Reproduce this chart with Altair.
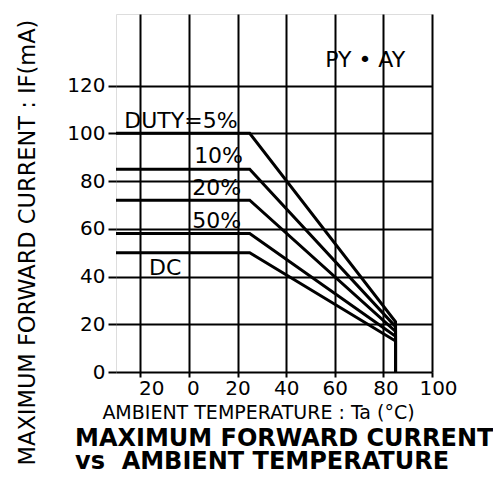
import altair as alt
import pandas as pd

# ---- data ----
series = ["DUTY=5%", "10%", "20%", "50%", "DC"]
flat_levels = [100, 85, 72, 58, 50]
start_temp = -30
knee_temp = 25
end_temp = 85
end_levels = [21, 19, 17, 15, 13]

label_texts = ["DUTY=5%", "10%", "20%", "50%", "DC", "PY • AY"]
label_x = [-3.3, 12.2, 11.4, 11.4, -9.8, 72.5]
label_y = [102.2, 87.6, 74.2, 60.3, 40.6, 127.8]

x_ticks = [-20, 0, 20, 40, 60, 80, 100]
y_ticks = [0, 20, 40, 60, 80, 100, 120]

rows = []
for s, f, e in zip(series, flat_levels, end_levels):
    pts = [(start_temp, f), (knee_temp, f), (end_temp, e), (end_temp, 0)]
    for i, (t, v) in enumerate(pts):
        rows.append({"series": s, "order": i, "temp": t, "current": v})
df = pd.DataFrame(rows)
lab = pd.DataFrame({"text": label_texts, "temp": label_x, "current": label_y})

FONT = "DejaVu Sans"

xscale = alt.Scale(domain=[-30, 100], nice=False, zero=False)
yscale = alt.Scale(domain=[0, 150], nice=False)

xaxis = alt.Axis(
    values=x_ticks,
    labelExpr="'' + abs(datum.value)",
    labelOverlap=False,
    labelFlush=False,
    labelOffset={"condition": [
        {"test": "datum.value == -20", "value": 11},
        {"test": "datum.value == 0", "value": 4},
        {"test": "datum.value == 80", "value": 2},
        {"test": "datum.value == 100", "value": 6},
    ], "value": 0},
    grid=True, gridColor="black", gridWidth=2,
    domain=False, ticks=True, tickSize=5, tickColor="black", tickWidth=2,
    labelFont=FONT, labelFontSize=20, labelColor="black", labelPadding=1,
    title="AMBIENT TEMPERATURE : Ta (°C)",
    titleFont=FONT, titleFontSize=19, titleFontWeight="normal", titleColor="black",
    titleX=142, titleY=46, titleAlign="center", titleBaseline="alphabetic",
)
yaxis = alt.Axis(
    values=y_ticks,
    labelOverlap=False,
    grid=True, gridColor="black", gridWidth=2,
    domain=False, ticks=True, tickSize=8, tickColor="black", tickWidth=2,
    labelFont=FONT, labelFontSize=20, labelColor="black", labelPadding=3,
    title="MAXIMUM FORWARD CURRENT : IF(mA)",
    titleFont=FONT, titleFontSize=22.5, titleFontWeight="normal", titleColor="black",
    titleAngle=270, titleX=-89, titleY=228, titleAlign="center", titleBaseline="middle",
)

lines = alt.Chart(df).mark_line(color="black", strokeWidth=3).encode(
    x=alt.X("temp:Q", scale=xscale, axis=xaxis),
    y=alt.Y("current:Q", scale=yscale, axis=yaxis),
    detail="series:N",
    order="order:Q",
)

texts = alt.Chart(lab).mark_text(
    font=FONT, fontSize=22, color="black", align="center", baseline="alphabetic"
).encode(
    x=alt.X("temp:Q", scale=xscale),
    y=alt.Y("current:Q", scale=yscale),
    text="text:N",
)

chart = alt.layer(lines, texts).properties(
    width=316,
    height=358,
    autosize=alt.AutoSizeParams(type="none"),
    padding={"left": 108, "top": 6, "right": 61, "bottom": 103},
    title=alt.TitleParams(
        text=["MAXIMUM FORWARD CURRENT", "vs\u00a0\u00a0AMBIENT TEMPERATURE"],
        orient="bottom", anchor="start", frame="group",
        font=FONT, fontSize=24, fontWeight="bold", color="black",
        lineHeight=23, dx=-41, offset=-38,
    ),
).configure_view(stroke="black", strokeWidth=3).configure(background="white")

chart.save("out.html", embed_options={"renderer": "svg", "actions": False})
